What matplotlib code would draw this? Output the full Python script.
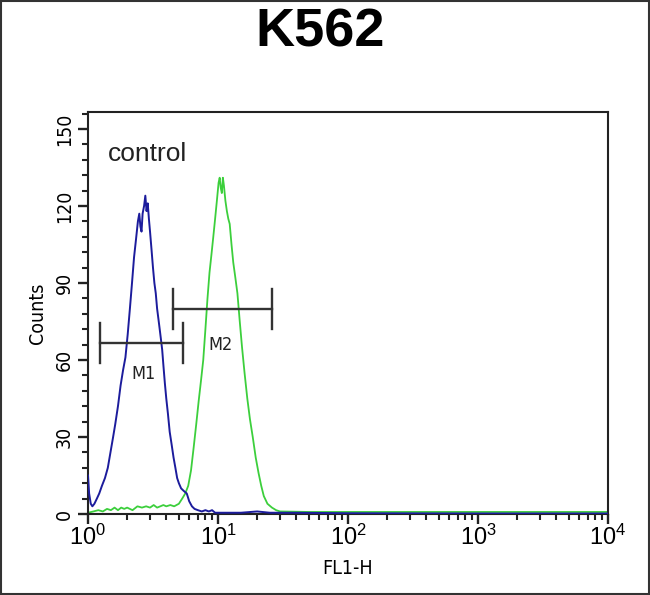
import matplotlib
matplotlib.use("Agg")
import matplotlib.pyplot as plt
from matplotlib import font_manager
from matplotlib.ticker import FixedLocator, LogLocator, NullFormatter
from matplotlib.patches import Rectangle

# ---------------- data ----------------
title = "K562"
sample_label = "control"
x_label = "FL1-H"
y_label = "Counts"

blue_x = [1.00, 1.02, 1.05, 1.08, 1.12, 1.17, 1.22, 1.28, 1.35, 1.42, 1.50, 1.56, 1.62, 1.70,
          1.78, 1.86, 1.94, 2.02, 2.10, 2.18, 2.26, 2.34, 2.42, 2.48, 2.53, 2.58, 2.63, 2.70,
          2.76, 2.82, 2.88, 2.94, 3.00, 3.08, 3.16, 3.24, 3.32, 3.40, 3.48, 3.56, 3.64, 3.72,
          3.80, 3.90, 4.00, 4.12, 4.25, 4.40, 4.55, 4.70, 4.85, 5.00, 5.20, 5.45, 5.75, 6.00,
          6.30, 6.60, 7.00, 7.50, 8.00, 8.50, 9.00, 9.50, 10.5, 12.0, 15.0, 20.0, 25.0, 40.0,
          100.0, 1000.0, 10000.0]
blue_y = [15, 8, 4, 3, 4, 6, 8, 11, 14, 18, 25, 30, 35, 42,
          50, 56, 61, 70, 80, 90, 100, 107, 114, 117, 112, 110, 117, 120,
          124, 118, 121, 115, 110, 103, 96, 90, 86, 80, 76, 72, 68, 64,
          58, 51, 45, 39, 32, 27, 22, 18, 14, 12, 10, 9, 8, 5,
          3, 2, 1.5, 1, 1.5, 1, 1.5, 0.5, 0.5, 0.5, 0.5, 1, 0.5, 0.5,
          0.3, 0.2, 0.2]

green_x = [1.00, 1.10, 1.20, 1.30, 1.40, 1.50, 1.60, 1.70, 1.80, 1.90, 2.00, 2.20, 2.40, 2.60,
           2.80, 3.00, 3.20, 3.40, 3.60, 3.80, 4.00, 4.30, 4.60, 5.00, 5.30, 5.60, 5.90, 6.20,
           6.50, 6.80, 7.10, 7.40, 7.70, 8.00, 8.30, 8.60, 8.90, 9.20, 9.50, 9.80, 10.1, 10.3,
           10.5, 10.7, 10.9, 11.1, 11.4, 11.7, 12.0, 12.3, 12.7, 13.1, 13.6, 14.1, 14.7, 15.3,
           16.0, 16.8, 17.6, 18.5, 19.5, 20.5, 21.5, 22.5, 24.0, 26.0, 28.0, 30.0, 50.0, 100.0,
           1000.0, 10000.0]
green_y = [0.5, 1, 1.5, 1, 2, 1.5, 2.5, 1.5, 2.5, 2, 2.5, 1.5, 3, 2.5,
           3, 2.5, 3.5, 2.5, 3, 3.5, 3, 3.5, 3, 4, 6, 8, 11, 17,
           26, 35, 44, 52, 60, 72, 84, 94, 101, 108, 115, 122, 129, 131,
           127, 125, 131, 128, 122, 118, 115, 113, 105, 98, 92, 86, 75, 65,
           55, 45, 37, 30, 22, 16, 11, 7, 4, 2.5, 1.5, 1, 0.8, 0.8,
           0.8, 0.8]

marker_names = ["M1", "M2"]
marker_lo = [1.24, 4.53]
marker_hi = [5.38, 25.9]
marker_level = [66.6, 79.7]
marker_text_x = [2.65, 10.4]
marker_text_y = [54.7, 65.8]

y_major = [0, 30, 60, 90, 120, 150]

# ---------------- fonts ----------------
plt.rcParams["font.family"] = ["Liberation Sans", "DejaVu Sans"]
cond = None
for f in font_manager.fontManager.ttflist:
    if f.name == "Liberation Sans Narrow" and f.weight in (400, "normal", "regular") and f.style == "normal":
        cond = "Liberation Sans Narrow"
        break
if cond is None:
    for f in font_manager.fontManager.ttflist:
        if f.name == "DejaVu Sans" and f.stretch == "condensed" and f.style == "normal":
            cond = "DejaVu Sans:stretch=condensed"
            break
cond_stretch = "condensed" if cond and "stretch" in cond else "normal"
cond_family = (cond.split(":")[0] if cond else "Liberation Sans")

plt.rcParams["mathtext.fontset"] = "custom"
plt.rcParams["mathtext.rm"] = cond if cond else "Liberation Sans"
plt.rcParams["mathtext.it"] = cond if cond else "Liberation Sans"

tick_size_y = 14 if cond else 13
tick_size_x = 17 if cond else 15

fig = plt.figure(figsize=(6.5, 5.95), dpi=100)
ax = fig.add_axes([0.1354, 0.1361, 0.80, 0.6757])

ax.plot(green_x, green_y, color="#3ccf3c", lw=1.3, zorder=2)
ax.plot(blue_x, blue_y, color="#1c1c9c", lw=1.4, zorder=3)

for lo, hi, lev in zip(marker_lo, marker_hi, marker_level):
    ax.plot([lo, hi], [lev, lev], color="#333333", lw=1.7, zorder=4)
    ax.plot([lo, lo], [lev - 7.8, lev + 7.8], color="#333333", lw=1.7, zorder=4)
    ax.plot([hi, hi], [lev - 7.8, lev + 7.8], color="#333333", lw=1.7, zorder=4)

for name, tx, ty in zip(marker_names, marker_text_x, marker_text_y):
    ax.text(tx, ty, name, fontsize=13, family=cond_family, stretch=cond_stretch,
            color="#222222", ha="center", va="center")

ax.set_xscale("log")
ax.set_xlim(1, 1e4)
ax.set_ylim(0, 156.6)

ax.xaxis.set_major_locator(LogLocator(base=10, numticks=10))
ax.xaxis.set_minor_locator(LogLocator(base=10, subs=range(2, 10), numticks=100))
ax.xaxis.set_minor_formatter(NullFormatter())
ax.yaxis.set_major_locator(FixedLocator(y_major))
ax.yaxis.set_minor_locator(FixedLocator(range(0, 157, 6)))
ax.set_yticklabels([str(v) for v in y_major], rotation=90, va="center",
                   fontsize=tick_size_y, family=cond_family, stretch=cond_stretch)

ax.tick_params(axis="both", which="major", direction="out", length=7, width=1.7, color="#222222")
ax.tick_params(axis="both", which="minor", direction="out", length=4.5, width=1.5, color="#222222")
ax.tick_params(axis="x", which="major", pad=1, labelsize=tick_size_x)
ax.tick_params(axis="y", which="major", pad=3)

for s in ax.spines.values():
    s.set_linewidth(1.5)
    s.set_color("#222222")

ax.set_xlabel(x_label, fontsize=14, family=cond_family, stretch=cond_stretch, labelpad=6)
ax.set_ylabel(y_label, fontsize=14, family=cond_family, stretch=cond_stretch, labelpad=6)

ax.text(0.038, 0.895, sample_label, transform=ax.transAxes, fontsize=19,
        color="#222222", ha="left", va="center")

fig.text(0.492, 0.945, title, fontsize=39, fontweight="bold", ha="center", va="center")

fig.patches.append(Rectangle((0.002, 0.002), 0.996, 0.996, transform=fig.transFigure,
                             fill=False, edgecolor="#333333", lw=1.5))

fig.savefig("out.png", dpi=100)
